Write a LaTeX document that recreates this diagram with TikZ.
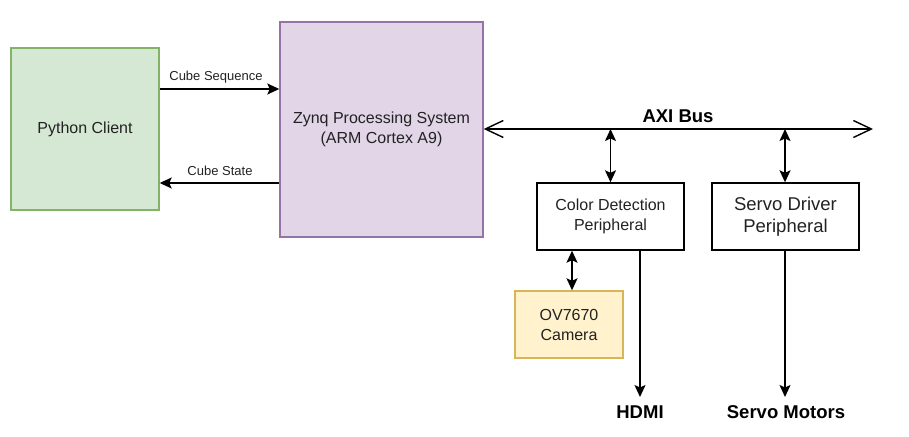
\documentclass[tikz,border=0pt]{standalone}
\usepackage{fontspec}
\setmainfont{Liberation Sans}
\usetikzlibrary{arrows.meta}
\definecolor{pyfill}{HTML}{D5E8D4}
\definecolor{pydraw}{HTML}{82B366}
\definecolor{zqfill}{HTML}{E1D5E7}
\definecolor{zqdraw}{HTML}{9673A6}
\definecolor{camfill}{HTML}{FFF2CC}
\definecolor{camdraw}{HTML}{D6B656}
\definecolor{txt}{HTML}{222222}
\tikzset{
  blk/.style={draw, line width=1.4pt, rectangle, align=center, inner sep=0pt, text=txt},
  tip/.style={},
  arr/.style={line width=1.5pt, -{Stealth[length=12pt,width=11pt,inset=2.5pt]}},
  dbl/.style={line width=1.5pt, {Stealth[length=12pt,width=11pt,inset=2.5pt]}-{Stealth[length=12pt,width=11pt,inset=2.5pt]}},
  busarr/.style={line width=1.5pt, {Straight Barb[length=18pt,width=17pt,line width=1.4pt]}-{Straight Barb[length=18pt,width=17pt,line width=1.4pt]}},
  lbl/.style={font=\fontsize{13}{15}\selectfont, text=txt, inner sep=0pt},
  blab/.style={font=\fontsize{18.5}{22}\selectfont\bfseries, inner sep=0pt},
  f16/.style={font=\fontsize{16}{20}\selectfont},
  f18/.style={font=\fontsize{18.5}{22}\selectfont}
}
\begin{document}
\begin{tikzpicture}[x=1pt,y=-1pt]
\useasboundingbox (0,0) rectangle (909,436);
\node[blk, f16, fill=pyfill, draw=pydraw, minimum width=148pt, minimum height=162pt] (py) at (85,129) {Python Client};
\node[blk, f16, fill=zqfill, draw=zqdraw, minimum width=203pt, minimum height=215pt] (zq) at (381.5,129.5) {Zynq Processing System\\(ARM Cortex A9)};
\node[blk, f16, fill=white, draw=black, minimum width=147pt, minimum height=67pt] (cd) at (610.5,216.5) {Color Detection\\Peripheral};
\node[blk, f18, fill=white, draw=black, minimum width=147pt, minimum height=67pt] (sd) at (785.5,216.5) {Servo Driver\\Peripheral};
\node[blk, f16, fill=camfill, draw=camdraw, minimum width=108pt, minimum height=67pt] (cam) at (569,324.5) {OV7670\\Camera};

\coordinate (seqy) at (0,89);
\coordinate (stay) at (0,183);
\coordinate (busy) at (0,129);
\coordinate (busend) at (873,129);
\coordinate (camx) at (572,0);
\coordinate (hdmix) at (640,0);
\coordinate (srvx) at (785,0);
\coordinate (hdmiend) at (640,397);
\coordinate (srvend) at (785,397);

\draw[arr] (py.east |- seqy) -- (zq.west |- seqy);
\draw[arr] (zq.west |- stay) -- (py.east |- stay);
\node[lbl] (seqlab) at (216,77) {Cube Sequence};
\node[lbl] (stalab) at (220,171) {Cube State};

\draw[busarr] (zq.east |- busy) -- (busend);
\node[blab] (axi) at (678,116) {AXI Bus};

\draw[dbl] (cd.north |- busy) -- (cd.north);
\draw[dbl] (srvx |- busy) -- (srvx |- sd.north);
\draw[dbl] (camx |- cd.south) -- (camx |- cam.north);
\draw[arr] (hdmix |- cd.south) -- (hdmiend);
\draw[arr] (srvx |- sd.south) -- (srvend);
\node[blab] (hdmi) at (640,412) {HDMI};
\node[blab] (motors) at (786,412) {Servo Motors};
\end{tikzpicture}
\end{document}
